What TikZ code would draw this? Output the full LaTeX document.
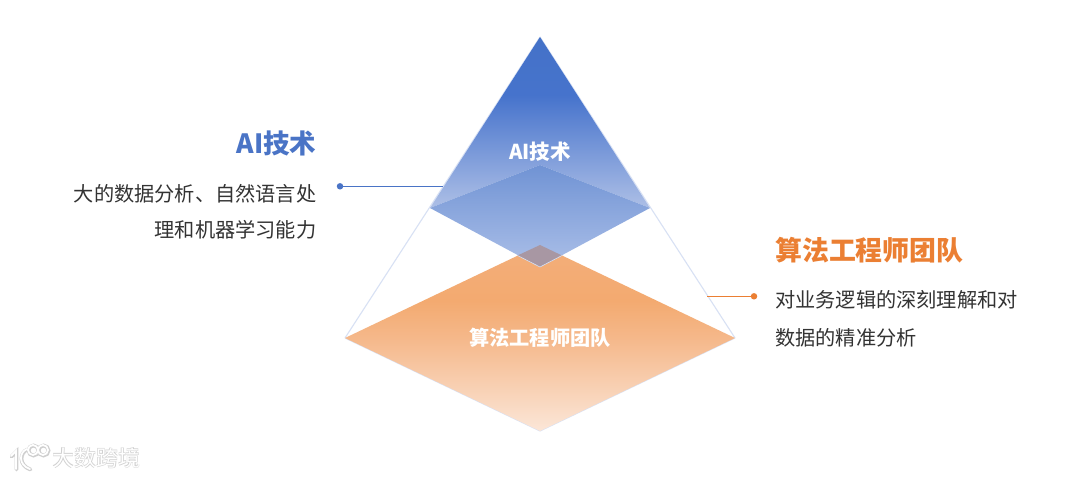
\documentclass[tikz,border=0pt]{standalone}
\usepackage{fontspec}
\setmainfont{Noto Sans CJK SC}
\definecolor{bluemain}{HTML}{4A74C6}
\definecolor{orangemain}{HTML}{EB7F33}
\definecolor{edgepale}{HTML}{D8E1F4}
\definecolor{bodytext}{HTML}{333333}
\definecolor{overlapc}{HTML}{A897A3}
\definecolor{wmgrey}{HTML}{CFCFCF}
\definecolor{ua}{HTML}{ADBFE6}
\definecolor{ub}{HTML}{4673CC}
\definecolor{uc}{HTML}{4472C8}
\definecolor{la}{HTML}{ABBFE8}
\definecolor{lb}{HTML}{7093D4}
\definecolor{oa}{HTML}{FBE6D8}
\definecolor{ob}{HTML}{F5B88A}
\definecolor{oc}{HTML}{F3AA70}
\definecolor{od}{HTML}{F3AE7A}
\pgfdeclareverticalshading{uppershade}{100bp}{color(0bp)=(ua);color(25bp)=(ua);color(58bp)=(ub);color(75bp)=(uc);color(100bp)=(uc)}
\pgfdeclareverticalshading{lowershade}{100bp}{color(0bp)=(la);color(25bp)=(la);color(75bp)=(lb);color(100bp)=(lb)}
\pgfdeclareverticalshading{orangeshade}{100bp}{color(0bp)=(oa);color(25bp)=(oa);color(50bp)=(ob);color(60bp)=(oc);color(75bp)=(od);color(100bp)=(od)}
\tikzset{
  headtext/.style={inner sep=0pt,anchor=center,font=\fontsize{26.5}{30}\selectfont\bfseries},
  bodyblock/.style={inner sep=0pt,text=bodytext},
  insidetext/.style={inner sep=0pt,text=white,font=\fontsize{20.5}{24}\selectfont\bfseries},
  leader/.style={line width=1.3pt},
  dotmark/.style={circle,inner sep=0pt,minimum size=6.5pt},
  paleedge/.style={draw=edgepale,line width=1.1pt},
  wmshadow/.style={inner sep=0pt,text=wmgrey,font=\fontsize{22}{24}\selectfont\bfseries},
  wmtext/.style={inner sep=0pt,text=white,font=\fontsize{22}{24}\selectfont},
}
\begin{document}
\begin{tikzpicture}[x=1pt,y=-1pt]
\useasboundingbox (0,0) rectangle (1080,478);
\fill[white] (0,0) rectangle (1080,478);
% coordinates
\coordinate (apex) at (540,37);
\coordinate (bl) at (430,208);
\coordinate (br) at (650,208);
\coordinate (bt) at (540,165);
\coordinate (bb) at (540,267);
\coordinate (ol) at (345,338);
\coordinate (or) at (735,338);
\coordinate (ot) at (540,245);
\coordinate (obot) at (540,431);
% pale pyramid edges
\draw[paleedge] (apex) -- (ol);
\draw[paleedge] (apex) -- (or);
\draw[paleedge] (ol) -- (obot) -- (or);
% leaders
\node[dotmark,fill=bluemain] (dotblue) at (340,186.3) {};
\coordinate (endblue) at (443,186.3);
\draw[leader,bluemain] (dotblue) -- (endblue);
\node[dotmark,fill=orangemain] (dotorange) at (754,296.3) {};
\coordinate (endorange) at (707,296.3);
\draw[leader,orangemain] (dotorange) -- (endorange);
% fills
\shade[shading=orangeshade] (ot) -- (or) -- (obot) -- (ol) -- cycle;
\shade[shading=uppershade] (apex) -- (br) -- (bt) -- (bl) -- cycle;
\shade[shading=lowershade] (bt) -- (br) -- (bb) -- (bl) -- cycle;
\fill[overlapc] (ot) -- (562,255.5) -- (bb) -- (517.5,255.5) -- cycle;
\draw[draw=edgepale,line width=.6pt] (562,255.5) -- (bb) -- (517.5,255.5);
% texts
\node[headtext,text=bluemain,anchor=east] (titleleft) at (316.5,143) {AI技术};
\node[bodyblock,anchor=east,align=right,font=\fontsize{20.2}{36}\selectfont] (bodyleft) at (316.5,212) {大的数据分析、自然语言处\\理和机器学习能力};
\node[headtext,text=orangemain,anchor=west,font=\fontsize{26.9}{30}\selectfont\bfseries] (titleright) at (775,250) {算法工程师团队};
\node[bodyblock,anchor=west,align=left,font=\fontsize{20.2}{38}\selectfont] (bodyright) at (775,319) {对业务逻辑的深刻理解和对\\数据的精准分析};
\node[insidetext] (insideai) at (540,152) {AI技术};
\node[insidetext,font=\fontsize{20.2}{24}\selectfont\bfseries] (insidealgo) at (540,338) {算法工程师团队};
% watermark
\foreach \dx/\dy/\col/\w in {.5/.5/wmgrey/3.8,0/0/white/1.8}{
  \begin{scope}[shift={(\dx,\dy)}]
    \draw[\col,line width=\w pt,line cap=round] (11,456) -- (16,451) -- (16,469);
    \draw[\col,line width=\w pt,line cap=round] (27,449) .. controls (19,452) and (18,465) .. (30,469);
    \draw[\col,line width=\w pt] (33,450) circle[radius=5];
    \draw[\col,line width=\w pt] (43,450) circle[radius=5];
  \end{scope}
}
\node[wmshadow,anchor=west] (wmback) at (52.5,458.5) {大数跨境};
\node[wmtext,anchor=west] (wmfront) at (52,458) {大数跨境};
\end{tikzpicture}
\end{document}
